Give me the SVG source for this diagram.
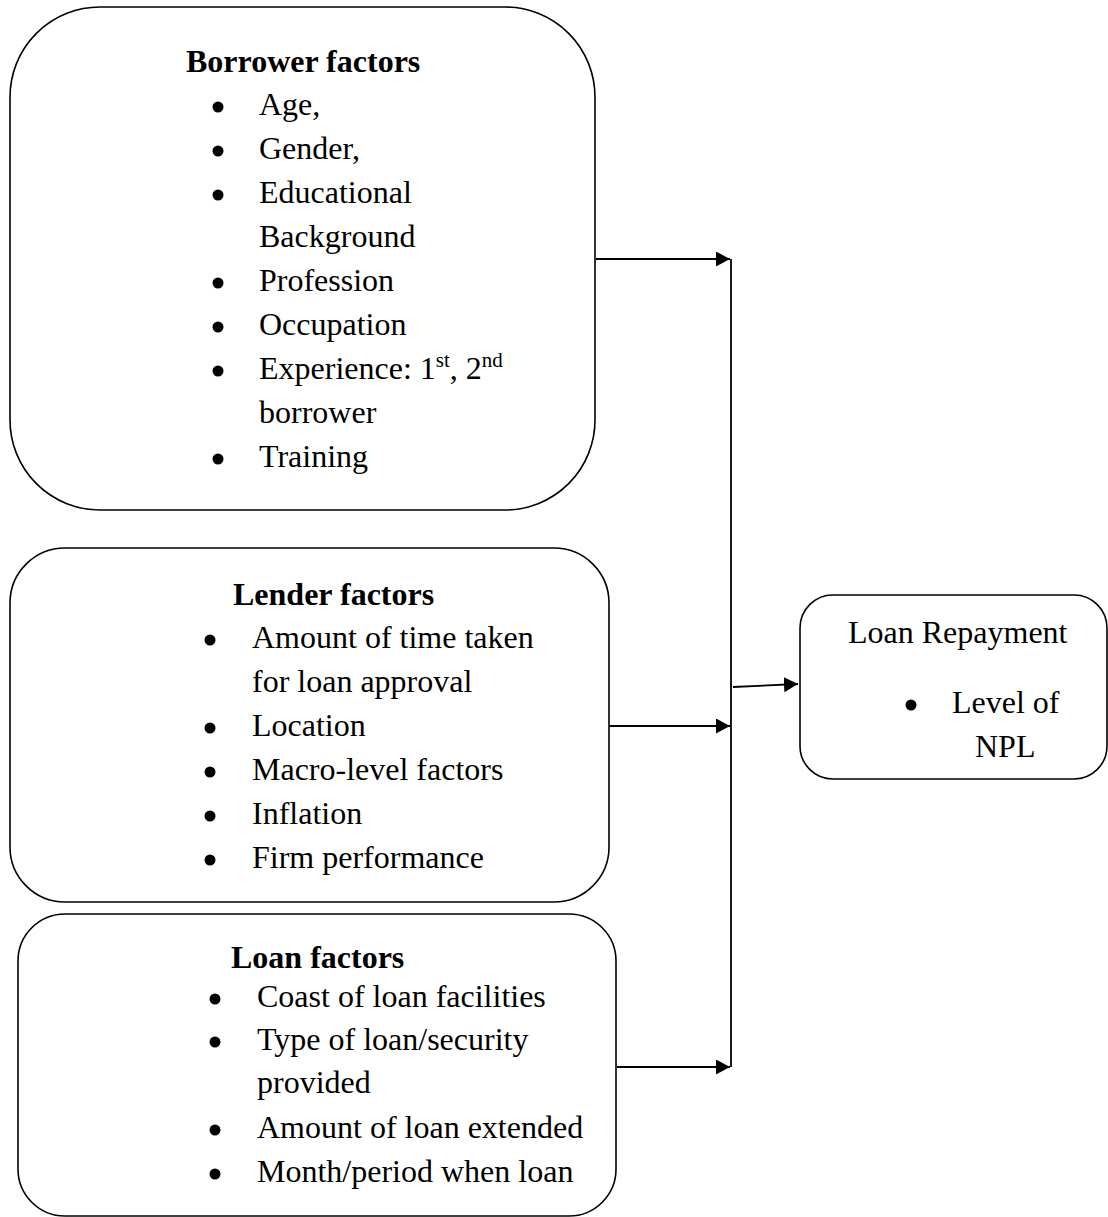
<svg xmlns="http://www.w3.org/2000/svg" width="1108" height="1217" viewBox="0 0 1108 1217">
  <style>
    .box { fill: #ffffff; stroke: #000000; stroke-width: 1.6; }
    .conn { fill: none; stroke: #000000; stroke-width: 1.8; }
    .t { font-family: "Liberation Serif", "Times New Roman", serif; font-size: 32px; fill: #000000; }
    .h { font-weight: bold; }
    .sup { font-size: 21px; }
    .dot { fill: #000000; }
  </style>
  <defs>
    <marker id="arr" markerUnits="userSpaceOnUse" markerWidth="15" markerHeight="16" refX="14" refY="7.5" orient="auto">
      <path d="M0,0 L14,7.5 L0,15 Z" fill="#000000"/>
    </marker>
  </defs>
  <rect width="1108" height="1217" fill="#ffffff"/>

  <g id="borrower-factors">
    <rect class="box" x="10" y="7" width="585" height="503" rx="90" ry="90"/>
    <text class="t h" x="186" y="72">Borrower factors</text>
    <circle class="dot" cx="218" cy="107" r="5.5"/>
    <text class="t" x="259" y="115">Age,</text>
    <circle class="dot" cx="218" cy="151" r="5.5"/>
    <text class="t" x="259" y="159">Gender,</text>
    <circle class="dot" cx="218" cy="195" r="5.5"/>
    <text class="t" x="259" y="203">Educational</text>
    <text class="t" x="259" y="247">Background</text>
    <circle class="dot" cx="218" cy="283" r="5.5"/>
    <text class="t" x="259" y="291">Profession</text>
    <circle class="dot" cx="218" cy="327" r="5.5"/>
    <text class="t" x="259" y="335">Occupation</text>
    <circle class="dot" cx="218" cy="371" r="5.5"/>
    <text class="t" x="259" y="379">Experience: 1<tspan class="sup" dy="-12">st</tspan><tspan dy="12">, 2</tspan><tspan class="sup" dy="-12">nd</tspan></text>
    <text class="t" x="259" y="423">borrower</text>
    <circle class="dot" cx="218" cy="459" r="5.5"/>
    <text class="t" x="259" y="467">Training</text>
  </g>

  <g id="lender-factors">
    <rect class="box" x="10" y="548" width="599" height="354" rx="55" ry="55"/>
    <text class="t h" x="233" y="605">Lender factors</text>
    <circle class="dot" cx="210" cy="640" r="5.5"/>
    <text class="t" x="252" y="648">Amount of time taken</text>
    <text class="t" x="252" y="692">for loan approval</text>
    <circle class="dot" cx="210" cy="728" r="5.5"/>
    <text class="t" x="252" y="736">Location</text>
    <circle class="dot" cx="210" cy="772" r="5.5"/>
    <text class="t" x="252" y="780">Macro-level factors</text>
    <circle class="dot" cx="210" cy="816" r="5.5"/>
    <text class="t" x="252" y="824">Inflation</text>
    <circle class="dot" cx="210" cy="860" r="5.5"/>
    <text class="t" x="252" y="868">Firm performance</text>
  </g>

  <g id="loan-factors">
    <rect class="box" x="18" y="914" width="598" height="302" rx="47" ry="47"/>
    <text class="t h" x="231" y="968">Loan factors</text>
    <circle class="dot" cx="215" cy="999" r="5.5"/>
    <text class="t" x="257" y="1007">Coast of loan facilities</text>
    <circle class="dot" cx="215" cy="1042" r="5.5"/>
    <text class="t" x="257" y="1050">Type of loan/security</text>
    <text class="t" x="257" y="1093">provided</text>
    <circle class="dot" cx="215" cy="1130" r="5.5"/>
    <text class="t" x="257" y="1138">Amount of loan extended</text>
    <circle class="dot" cx="215" cy="1174" r="5.5"/>
    <text class="t" x="257" y="1182">Month/period when loan</text>
  </g>

  <g id="loan-repayment">
    <rect class="box" x="800" y="595" width="307" height="184" rx="33" ry="33"/>
    <text class="t" x="848" y="643">Loan Repayment</text>
    <circle class="dot" cx="911" cy="705" r="5.5"/>
    <text class="t" x="952" y="713">Level of</text>
    <text class="t" x="975" y="757">NPL</text>
  </g>

  <g id="connectors">
    <line class="conn" x1="596" y1="259" x2="730" y2="259" marker-end="url(#arr)"/>
    <line class="conn" x1="609" y1="726" x2="730" y2="726" marker-end="url(#arr)"/>
    <line class="conn" x1="617" y1="1067" x2="730" y2="1067" marker-end="url(#arr)"/>
    <line class="conn" x1="731" y1="259" x2="731" y2="1067"/>
    <line class="conn" x1="733" y1="687" x2="798" y2="684" marker-end="url(#arr)"/>
  </g>
</svg>
